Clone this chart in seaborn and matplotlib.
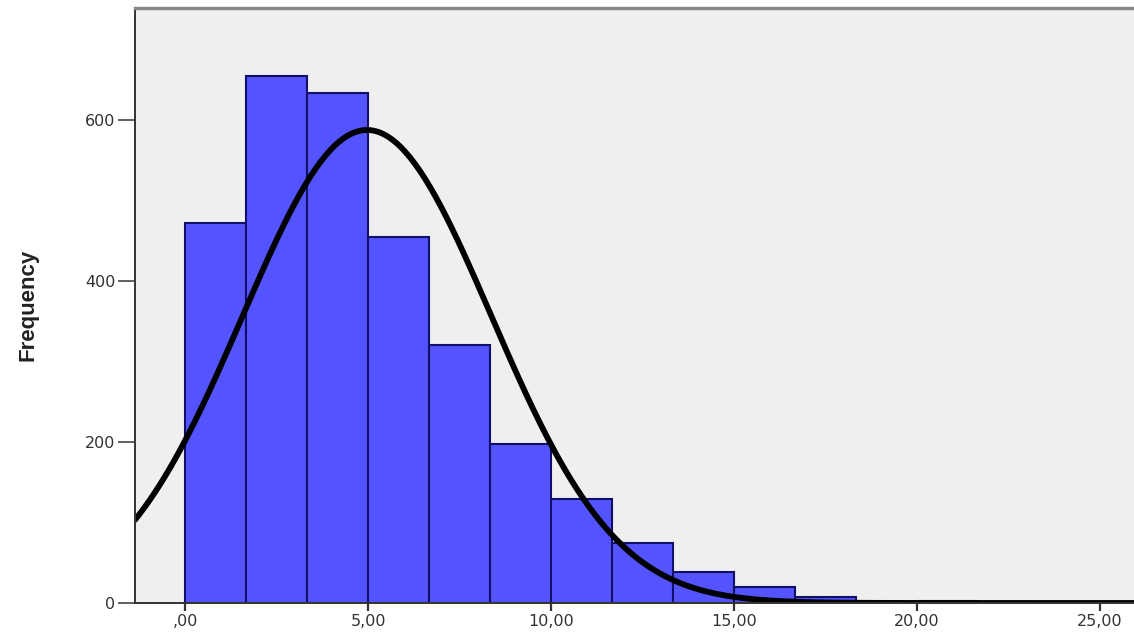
import numpy as np
import pandas as pd
import matplotlib
matplotlib.use("Agg")
import matplotlib.pyplot as plt
import seaborn as sns

# ---- data ----
bin_edges = [0.0, 1.6667, 3.3333, 5.0, 6.6667, 8.3333, 10.0, 11.6667,
             13.3333, 15.0, 16.6667, 18.3333, 20.0, 21.6667]
bin_counts = [472, 654, 633, 455, 321, 198, 129, 74, 38, 20, 7, 0, 3]
fit_mean = 4.97
fit_sd = 3.40
x_ticks = [0, 5, 10, 15, 20, 25]
x_tick_labels = [",00", "5,00", "10,00", "15,00", "20,00", "25,00"]
y_ticks = [0, 200, 400, 600]
y_tick_labels = ["0", "200", "400", "600"]
y_label = "Frequency"

sns.set_theme(style="white")
plt.rcParams['font.family'] = ['DejaVu Sans']

fig = plt.figure(figsize=(11.34, 6.32), dpi=100)
ax = fig.add_axes([135 / 1134, 1 - 603 / 632, (1134 - 135) / 1134, (603 - 8) / 632])
ax.set_facecolor("#EFEFEF")

edges = np.array(bin_edges)
centers = (edges[:-1] + edges[1:]) / 2
df = pd.DataFrame({"value": centers, "count": bin_counts})
sns.histplot(data=df, x="value", weights="count", bins=bin_edges, ax=ax,
             color="#5454FF", alpha=1.0, edgecolor="#10106A", linewidth=1.5)

# normal curve fitted with the data's mean and sd (SPSS style)
xmin, xmax = -1.37, 25.93
n_total = sum(bin_counts)
bw = edges[1] - edges[0]
xs = np.linspace(xmin, xmax, 400)
ys = n_total * bw / (fit_sd * np.sqrt(2 * np.pi)) * np.exp(-0.5 * ((xs - fit_mean) / fit_sd) ** 2)
sns.lineplot(x=xs, y=ys, ax=ax, color="black", linewidth=4.2)

ax.set_xlim(xmin, xmax)
ax.set_ylim(0, 739)
ax.set_xticks(x_ticks)
ax.set_xticklabels(x_tick_labels)
ax.set_yticks(y_ticks)
ax.set_yticklabels(y_tick_labels)
ax.set_xlabel("")
ax.set_ylabel("")
fig.text(28 / 1134, 1 - 305 / 632, y_label, rotation=90, ha='center', va='center',
         family=['Liberation Sans', 'DejaVu Sans'], fontsize=16, fontweight='bold',
         color="#222222")

ax.tick_params(axis='y', direction='out', length=12, width=1.2, color="#444444",
               labelsize=11.5, labelcolor="#333333", pad=2, left=True)
ax.tick_params(axis='x', direction='out', length=6, width=1.6, color="#333333",
               labelsize=11.5, labelcolor="#333333", pad=2, bottom=True)

for side in ["left", "top", "bottom"]:
    ax.spines[side].set_visible(True)
    ax.spines[side].set_color("#333333")
    ax.spines[side].set_linewidth(1.4)
ax.spines["top"].set_color("#888888")
ax.spines["top"].set_linewidth(2.5)
ax.spines["right"].set_visible(False)
ax.grid(False)

fig.savefig("out.png", dpi=100, facecolor="white")
